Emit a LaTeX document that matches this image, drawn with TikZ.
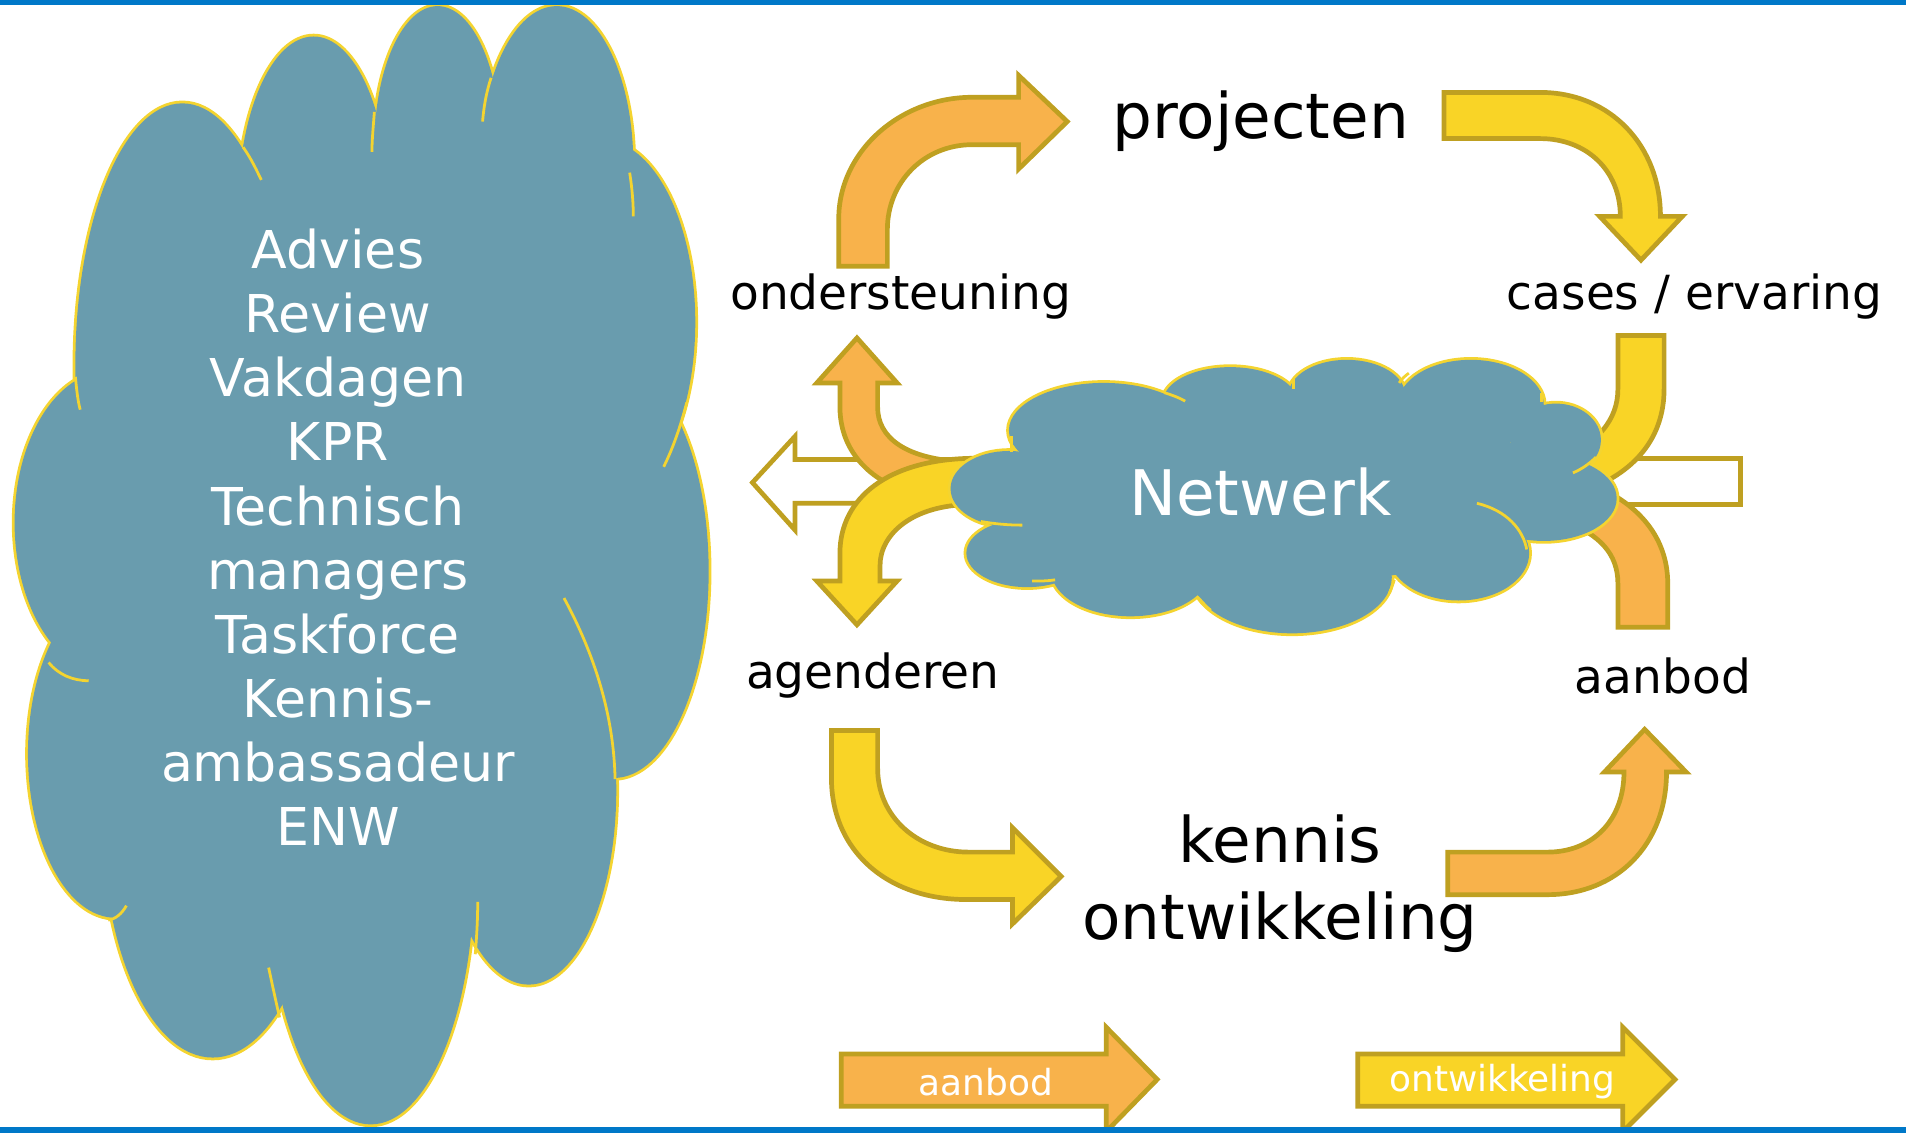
\documentclass[tikz,border=0pt]{standalone}
\usepackage{fontspec}
\setmainfont{DejaVu Sans}
\definecolor{cloudfill}{RGB}{105,156,174}
\definecolor{cloudline}{RGB}{244,212,48}
\definecolor{arrorange}{RGB}{248,178,75}
\definecolor{arryellow}{RGB}{249,212,38}
\definecolor{arredge}{RGB}{191,160,33}
\definecolor{barblue}{RGB}{0,120,200}
\begin{document}
\begin{tikzpicture}[x=0.01cm,y=-0.01cm,
  arrowshape/.style={draw=arredge, line width=1.1pt, line join=miter},
  orangearrow/.style={arrowshape, fill=arrorange},
  yellowarrow/.style={arrowshape, fill=arryellow},
  whitearrow/.style={arrowshape, fill=white},
  cloudedge/.style={draw=cloudline, line width=1.3pt},
  cloudbody/.style={fill=cloudfill},
  cloudstroke/.style={draw=cloudline, line width=0.65pt},
  smalltext/.style={font=\fontsize{11}{13}\selectfont, text=black, inner sep=0pt},
  bigtext/.style={font=\fontsize{14.7}{18}\selectfont, text=black, inner sep=0pt, align=center},
  arrowtext/.style={font=\fontsize{8.4}{10}\selectfont, text=white, inner sep=0pt},
  bar/.style={fill=barblue}
]
\useasboundingbox (0,0) rectangle (1568,932);

% ---------------- left cloud ----------------
\def\leftlobes{150/300/88/215, 258/170/62/140, 360/120/52/115, 458/135/63/130,
  495/265/77/150, 505/470/78/170, 435/650/72/160, 305/720/85/205,
  175/680/90/190, 90/430/78/125, 95/620/72/135, 300/440/210/300}
\foreach \cx/\cy/\rx/\ry in \leftlobes {\path[cloudedge] (\cx,\cy) ellipse [x radius=\rx, y radius=\ry];}
\foreach \cx/\cy/\rx/\ry in \leftlobes {\path[cloudbody] (\cx,\cy) ellipse [x radius=\rx, y radius=\ry];}
\draw[cloudstroke] (200,121) .. controls (207,131) and (211,140) .. (215,148);
\draw[cloudstroke] (308,92) .. controls (307,105) and (306,115) .. (306,125);
\draw[cloudstroke] (404,64) .. controls (400,76) and (398,88) .. (397,100);
\draw[cloudstroke] (518,142) .. controls (520,155) and (521,166) .. (521,178);
\draw[cloudstroke] (565,331) .. controls (560,350) and (554,368) .. (546,384);
\draw[cloudstroke] (464,492) .. controls (490,540) and (505,590) .. (506,641);
\draw[cloudstroke] (40,545) .. controls (48,555) and (60,560) .. (73,560);
\draw[cloudstroke] (89,757) .. controls (95,756) and (100,752) .. (104,745);
\draw[cloudstroke] (393,742) .. controls (393,758) and (392,772) .. (391,785);
\draw[cloudstroke] (221,796) .. controls (224,810) and (227,824) .. (230,837);
\draw[cloudstroke] (62,310) .. controls (63,320) and (64,330) .. (66,337);

\node[font=\fontsize{12.2}{15}\selectfont, text=white, align=center, inner sep=0pt] (leftcloudtext) at (278,442)
  {Advies\\Review\\Vakdagen\\KPR\\Technisch\\managers\\Taskforce\\Kennis-\\ambassadeur\\ENW};

% ---------------- arrows behind the Netwerk cloud ----------------
\draw[whitearrow] (619,397) -- (654,359) -- (654,378) -- (800,378) -- (800,414) -- (654,414) -- (654,436) -- cycle;
\draw[whitearrow] (1290,377) rectangle (1432,415);

% orange, left, up to ondersteuning
\draw[orangearrow] (705,278) -- (738,315) -- (722,315) -- (722,335)
  .. controls (722,360) and (745,378) .. (795,380) -- (795,412)
  .. controls (730,412) and (691,380) .. (691,335) -- (691,315) -- (672,315) -- cycle;
% orange, right, down to aanbod
\draw[orangearrow] (1331,516) -- (1372,516) -- (1372,480)
  .. controls (1372,440) and (1345,410) .. (1300,395) -- (1290,430)
  .. controls (1315,440) and (1331,455) .. (1331,480) -- cycle;

% yellow, left, down to agenderen
\draw[yellowarrow] (705,514) -- (672,478) -- (691,478) -- (691,455)
  .. controls (691,410) and (730,378) .. (800,377) -- (800,415)
  .. controls (750,415) and (724,440) .. (724,465) -- (724,478) -- (738,478) -- cycle;
% yellow, right, from cases / ervaring
\draw[yellowarrow] (1331,276) -- (1369,276) -- (1369,320)
  .. controls (1369,360) and (1345,390) .. (1300,405) -- (1280,380)
  .. controls (1315,365) and (1331,345) .. (1331,320) -- cycle;

% ---------------- Netwerk cloud ----------------
\def\netlobes{830/402/48/31, 908/354/78/39, 1012/330/55/28, 1108/325/48/29,
  1210/333/60/37, 1280/362/37/30, 1270/410/60/35, 1200/455/58/39,
  1063/475/82/46, 930/470/65/37, 845/455/50/28, 1050/405/230/75}
\foreach \cx/\cy/\rx/\ry in \netlobes {\path[cloudedge] (\cx,\cy) ellipse [x radius=\rx, y radius=\ry];}
\foreach \cx/\cy/\rx/\ry in \netlobes {\path[cloudbody] (\cx,\cy) ellipse [x radius=\rx, y radius=\ry];}
\draw[cloudstroke] (958,323) .. controls (964,325) and (970,327) .. (975,330);
\draw[cloudstroke] (1064,312) .. controls (1064,315) and (1064,317) .. (1064,320);
\draw[cloudstroke] (1151,315) .. controls (1153,312) and (1156,309) .. (1159,307);
\draw[cloudstroke] (1268,323) .. controls (1268,326) and (1268,328) .. (1268,331);
\draw[cloudstroke] (1313,376) .. controls (1307,382) and (1301,386) .. (1294,389);
\draw[cloudstroke] (1215,414) .. controls (1240,420) and (1253,436) .. (1256,452);
\draw[cloudstroke] (1147,477) .. controls (1146,481) and (1144,485) .. (1143,488);
\draw[cloudstroke] (985,491) .. controls (989,495) and (992,499) .. (996,502);
\draw[cloudstroke] (868,477) .. controls (862,478) and (856,478) .. (849,478);
\draw[cloudstroke] (807,429) .. controls (818,431) and (830,432) .. (841,432);
\draw[cloudstroke] (832,359) .. controls (832,363) and (832,367) .. (832,372);
\node[font=\fontsize{14.7}{17}\selectfont, text=white, inner sep=0pt] (netwerk) at (1037,405) {Netwerk};

% ---------------- curved arrows of the cycle ----------------
% ondersteuning -> projecten
\draw[orangearrow] (690,219) -- (690,180) .. controls (690,125) and (740,80) .. (800,80)
  -- (838,80) -- (838,62) -- (878,100) -- (838,139) -- (838,119) -- (800,119)
  .. controls (760,119) and (730,150) .. (730,189) -- (730,219) -- cycle;
% projecten -> cases / ervaring
\draw[yellowarrow] (1188,76) -- (1267,76) .. controls (1325,76) and (1366,120) .. (1366,178)
  -- (1384,178) -- (1350,214) -- (1316,178) -- (1333,178)
  .. controls (1333,140) and (1305,114) .. (1267,114) -- (1188,114) -- cycle;
% agenderen -> kennis ontwikkeling
\draw[yellowarrow] (684,601) -- (722,601) -- (722,632) .. controls (722,672) and (755,701) .. (797,701)
  -- (833,701) -- (833,681) -- (873,721) -- (833,760) -- (833,740) -- (795,740)
  .. controls (730,740) and (684,700) .. (684,640) -- cycle;
% kennis ontwikkeling -> aanbod
\draw[orangearrow] (1191,701) -- (1273,701) .. controls (1310,701) and (1336,675) .. (1336,635)
  -- (1320,635) -- (1353,600) -- (1387,635) -- (1371,635)
  .. controls (1371,695) and (1330,736) .. (1273,736) -- (1191,736) -- cycle;

% ---------------- labels ----------------
\node[bigtext] (projecten) at (1037,100) {projecten};
\node[bigtext] (kennis) at (1053,727) {kennis\\ontwikkeling};
\node[smalltext] (ondersteuning) at (741,244) {ondersteuning};
\node[smalltext] (cases) at (1394,244) {cases / ervaring};
\node[smalltext] (agenderen) at (718,556) {agenderen};
\node[smalltext] (aanbodlabel) at (1368,556) {aanbod};

% ---------------- legend arrows ----------------
\draw[orangearrow] (692,867) -- (910,867) -- (910,845) -- (952,888) -- (910,931) -- (910,910) -- (692,910) -- cycle;
\draw[yellowarrow] (1117,867) -- (1335,867) -- (1335,845) -- (1378,888) -- (1335,931) -- (1335,910) -- (1117,910) -- cycle;
\node[arrowtext] (legendaanbod) at (811,890) {aanbod};
\node[arrowtext] (legendontw) at (1236,890) {ontwikkeling};

% ---------------- blue bars ----------------
\path[bar] (0,0) rectangle (1568,4);
\path[bar] (0,927) rectangle (1568,932);
\end{tikzpicture}
\end{document}
